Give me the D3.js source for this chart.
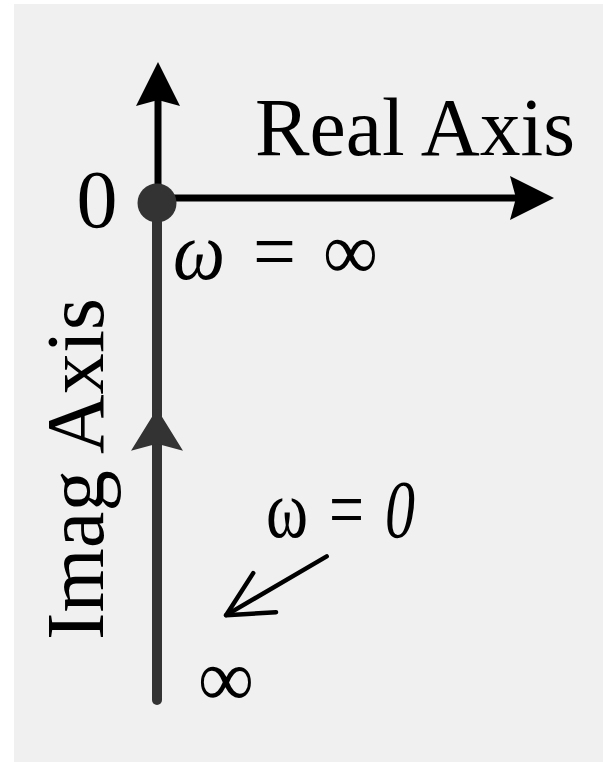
<!DOCTYPE html>
<html>
<head>
<meta charset="utf-8">
<script src="https://cdn.jsdelivr.net/npm/d3@7"></script>
<style>
  html, body { margin: 0; padding: 0; background: #ffffff; }
  svg { display: block; }
  text { font-family: "Liberation Serif", "Times New Roman", serif; fill: #000; }
</style>
</head>
<body>
<svg id="chart" width="603" height="762"></svg>
<script>
// Complex-plane extents (normalised units)
const realExtent = [0, 1];        // origin to tip of the real-axis arrow
const imagExtent = [-1, 0];       // bottom of the locus (ω = 0, at −j∞) to origin
const imagAxisTop = 0.271;        // tip of the imaginary-axis arrow

// Nyquist locus along the negative imaginary axis, ordered by increasing ω
const locusRe = [0, 0];
const locusIm = [-1, 0];
const locusOmega = ["0", "∞"];

// Position (on the imaginary axis) of the direction arrow on the locus
const directionIm = -0.42;

// Annotation pointing at the ω = 0 end of the locus
const noteFrom = { re: 0.426, im: -0.714 };
const noteTo = { re: 0.172, im: -0.831 };

const W = 603, H = 762;
const svg = d3.select("#chart");

// Panel background
svg.append("rect")
  .attr("x", 14).attr("y", 4)
  .attr("width", W - 14).attr("height", H - 4)
  .attr("fill", "#f0f0f0");

const x = d3.scaleLinear().domain(realExtent).range([158, 554]);
const y = d3.scaleLinear().domain(imagExtent).range([700, 198]);

// Filled arrowhead with a slightly swept-back base
function arrowHead(tx, ty, angleDeg, len, halfW, notch) {
  const a = angleDeg * Math.PI / 180;
  const ux = Math.cos(a), uy = Math.sin(a);   // pointing direction
  const px = -uy, py = ux;                     // perpendicular
  const bx = tx - ux * len, by = ty - uy * len;
  const p = d3.path();
  p.moveTo(tx, ty);
  p.lineTo(bx + px * halfW, by + py * halfW);
  p.lineTo(bx + ux * notch, by + uy * notch);
  p.lineTo(bx - px * halfW, by - py * halfW);
  p.closePath();
  return p.toString();
}

// Axes
const axes = svg.append("g");
axes.append("line")
  .attr("x1", x(0)).attr("y1", y(0))
  .attr("x2", x(realExtent[1]) - 30).attr("y2", y(0))
  .attr("stroke", "#000").attr("stroke-width", 7);
axes.append("path")
  .attr("d", arrowHead(x(realExtent[1]), y(0), 0, 44, 22, 6))
  .attr("fill", "#000");
axes.append("line")
  .attr("x1", x(0)).attr("y1", y(0))
  .attr("x2", x(0)).attr("y2", y(imagAxisTop) + 30)
  .attr("stroke", "#000").attr("stroke-width", 7);
axes.append("path")
  .attr("d", arrowHead(x(0), y(imagAxisTop), -90, 44, 22, 6))
  .attr("fill", "#000");

// Locus
const locus = locusRe.map((re, i) => ({ re, im: locusIm[i], w: locusOmega[i] }));
const line = d3.line().x(d => x(d.re) - 1).y(d => y(d.im));
svg.append("path")
  .datum(locus)
  .attr("d", line)
  .attr("fill", "none")
  .attr("stroke", "#333")
  .attr("stroke-width", 10)
  .attr("stroke-linecap", "round");

// Direction of increasing ω
svg.append("path")
  .attr("d", arrowHead(x(0) - 1, y(directionIm), -90, 42, 26, 7))
  .attr("fill", "#333");

// Origin point (ω = ∞)
svg.append("circle")
  .attr("cx", x(locus[1].re) - 1).attr("cy", y(locus[1].im) + 5)
  .attr("r", 19.5)
  .attr("fill", "#333");

// Annotation arrow
const ax1 = x(noteFrom.re), ay1 = y(noteFrom.im);
const ax2 = x(noteTo.re), ay2 = y(noteTo.im);
const ang = Math.atan2(ay1 - ay2, ax1 - ax2);
const head = 50, spread = 0.47;
const note = svg.append("g")
  .attr("stroke", "#000").attr("stroke-width", 4.5)
  .attr("stroke-linecap", "round").attr("fill", "none");
note.append("line")
  .attr("x1", ax1).attr("y1", ay1).attr("x2", ax2).attr("y2", ay2);
note.append("path")
  .attr("d", d3.line()([
    [ax2 + head * Math.cos(ang - spread), ay2 + head * Math.sin(ang - spread)],
    [ax2, ay2],
    [ax2 + head * Math.cos(ang + spread), ay2 + head * Math.sin(ang + spread)]
  ]))
  .attr("stroke-linejoin", "round");

// Labels
const fs = 82;
svg.append("text")
  .attr("x", 255).attr("y", 155)
  .attr("font-size", fs)
  .attr("textLength", 320).attr("lengthAdjust", "spacingAndGlyphs")
  .text("Real Axis");

svg.append("text")
  .attr("x", 97).attr("y", 227)
  .attr("text-anchor", "middle")
  .attr("font-size", fs)
  .text("0");

svg.append("text")
  .attr("transform", "translate(103,298) rotate(-90)")
  .attr("x", -342)
  .attr("font-size", fs)
  .attr("textLength", 342).attr("lengthAdjust", "spacingAndGlyphs")
  .text("Imag Axis");

// Equation pieces: [text, x, width, italic]
function equation(pieces, baseline) {
  const g = svg.append("g");
  g.selectAll("text")
    .data(pieces)
    .join("text")
    .attr("x", d => d[1]).attr("y", baseline)
    .attr("font-size", fs)
    .attr("font-style", d => d[3] ? "italic" : "normal")
    .attr("textLength", d => d[2]).attr("lengthAdjust", "spacingAndGlyphs")
    .text(d => d[0]);
  return g;
}

equation([["ω", 173, 52, true], ["=", 253, 43, false], [locus[1].w, 323, 55, false]], 279);
equation([["ω", 266, 42, false], ["=", 329, 35, false], [locus[0].w, 385, 30, true]], 537);

svg.append("text")
  .attr("x", 198).attr("y", 706)
  .attr("font-size", fs)
  .attr("textLength", 56).attr("lengthAdjust", "spacingAndGlyphs")
  .text(locus[1].w);
</script>
</body>
</html>
